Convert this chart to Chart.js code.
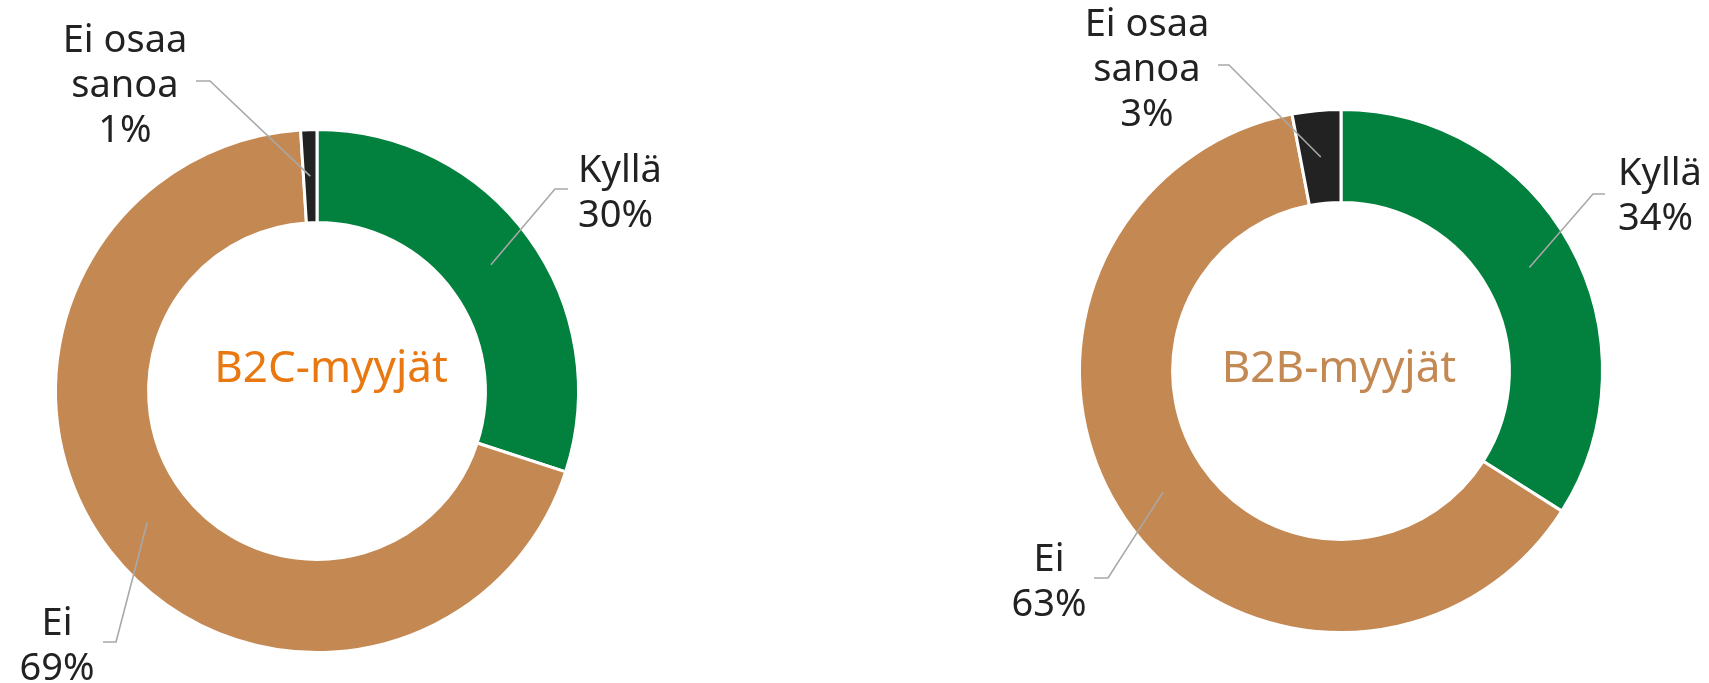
<!DOCTYPE html>
<html>
<head>
<meta charset="utf-8">
<script src="https://cdn.jsdelivr.net/npm/chart.js@4.4.1/dist/chart.umd.min.js"></script>
<style>
  html, body { margin: 0; padding: 0; background: #fff; }
  body { width: 1709px; height: 683px; position: relative; overflow: hidden; }
  .box { position: absolute; top: 0; height: 683px; }
</style>
</head>
<body>
<div class="box" style="left:0;width:854px"><canvas id="b2cChart" width="854" height="683"></canvas></div>
<div class="box" style="left:854px;width:855px"><canvas id="b2bChart" width="855" height="683"></canvas></div>
<script>
// data
const categories = ["Kyllä", "Ei", "Ei osaa sanoa"];
const labelLines = [["Kyllä"], ["Ei"], ["Ei osaa", "sanoa"]];
const b2cValues = [30, 69, 1];
const b2bValues = [34, 63, 3];
const b2cTitle = "B2C-myyjät";
const b2bTitle = "B2B-myyjät";

const sliceColors = ["#02803D", "#C48853", "#222222"];
const FONT = "'Noto Sans', 'DejaVu Sans', sans-serif";

// label placement relative to donut centre: elbow, end of leader, text anchor
const b2cLayout = [
  { elbow: [238, -202], end: [251, -202], textX: 261, base: -209, align: "left" },
  { elbow: [-201, 251], end: [-214, 251], textX: -260, base: 244, align: "center" },
  { elbow: [-107, -310], end: [-121, -310], textX: -192, base: -339, align: "center" }
];
const b2bLayout = [
  { elbow: [252, -177], end: [264, -177], textX: 277, base: -186, align: "left" },
  { elbow: [-233, 207], end: [-247, 207], textX: -292, base: 200, align: "center" },
  { elbow: [-112, -306], end: [-123, -306], textX: -194, base: -335, align: "center" }
];

const donutLabels = {
  id: "donutLabels",
  afterDraw(chart, args, opts) {
    const ctx = chart.ctx;
    const meta = chart.getDatasetMeta(0);
    const values = chart.data.datasets[0].data;
    ctx.save();
    meta.data.forEach((arc, i) => {
      const p = arc.getProps(["x", "y", "startAngle", "endAngle", "innerRadius", "outerRadius"], true);
      const mid = (p.startAngle + p.endAngle) / 2;
      const r = (p.innerRadius + p.outerRadius) / 2;
      const lay = opts.layout[i];
      // leader line
      ctx.strokeStyle = "#A8A8A8";
      ctx.lineWidth = 1.6;
      ctx.beginPath();
      ctx.moveTo(p.x + Math.cos(mid) * r, p.y + Math.sin(mid) * r);
      ctx.lineTo(p.x + lay.elbow[0], p.y + lay.elbow[1]);
      ctx.lineTo(p.x + lay.end[0], p.y + lay.end[1]);
      ctx.stroke();
      // text
      const lines = labelLines[i].concat([values[i] + "%"]);
      ctx.fillStyle = "#222222";
      ctx.font = "38px " + FONT;
      ctx.textAlign = lay.align;
      ctx.textBaseline = "alphabetic";
      lines.forEach((t, k) => {
        ctx.fillText(t, p.x + lay.textX, p.y + lay.base + k * 45);
      });
    });
    // centre title
    const arc0 = meta.data[0];
    ctx.fillStyle = opts.titleColor;
    ctx.font = "44px " + FONT;
    ctx.textAlign = "center";
    ctx.fillText(opts.title, arc0.x + opts.titleDx, arc0.y + opts.titleDy);
    ctx.restore();
  }
};

function makeDonut(id, values, padding, layout, title, titleColor, titleDx, titleDy) {
  return new Chart(document.getElementById(id), {
    type: "doughnut",
    data: {
      labels: categories,
      datasets: [{
        data: values,
        backgroundColor: sliceColors,
        borderColor: "#ffffff",
        borderWidth: 3
      }]
    },
    options: {
      responsive: false,
      animation: false,
      cutout: "64.4%",
      layout: { padding: padding },
      plugins: {
        legend: { display: false },
        tooltip: { enabled: false },
        donutLabels: { layout, title, titleColor, titleDx, titleDy }
      }
    },
    plugins: [donutLabels]
  });
}

makeDonut("b2cChart", b2cValues, { left: 54, right: 274, top: 128, bottom: 29 },
  b2cLayout, b2cTitle, "#E8780F", 14, -9);
makeDonut("b2bChart", b2bValues, { left: 224, right: 105, top: 108, bottom: 49 },
  b2bLayout, b2bTitle, "#C48853", -2, 11);
</script>
</body>
</html>
